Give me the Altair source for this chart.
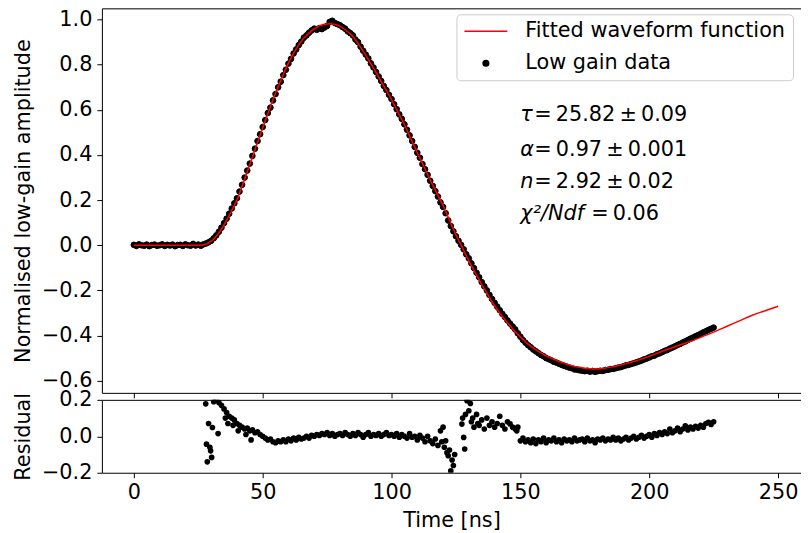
import altair as alt
import pandas as pd

FIT = "Fitted waveform function"
LOW = "Low gain data"

# ---- Low gain data (time in ns, normalised amplitude) ----
data_t = list(range(0, 226))
data_v = [
    0.002, -0.003, 0.004, 0.0, -0.002, 0.003, -0.004, 0.001, 0.003, -0.002,
    0.0, 0.004, -0.003, 0.002, -0.001, 0.003, -0.004, 0.001, 0.002, -0.003,
    0.004, 0.0, -0.002, 0.006, -0.001, 0.003, -0.002,
    0.004, 0.008, 0.013, 0.02, 0.031, 0.044, 0.06, 0.078, 0.098, 0.118, 0.14, 0.163, 0.186, 0.208,
    0.238, 0.268, 0.3, 0.331, 0.362, 0.396, 0.428, 0.462, 0.492, 0.524,
    0.555, 0.586, 0.61, 0.642, 0.67, 0.7, 0.725, 0.754, 0.778, 0.805,
    0.826, 0.85, 0.868, 0.887, 0.903, 0.92, 0.93, 0.942, 0.952, 0.96,
    0.955, 0.962, 0.958, 0.965, 0.972, 0.99, 0.995, 0.985, 0.98, 0.975,
    0.967, 0.96, 0.948, 0.94, 0.93, 0.912, 0.9, 0.88, 0.862, 0.845,
    0.828, 0.806, 0.788, 0.768, 0.748, 0.728, 0.706, 0.688, 0.667, 0.648,
    0.625, 0.603, 0.58, 0.56, 0.536, 0.512, 0.487, 0.462, 0.436, 0.41,
    0.388, 0.36, 0.337, 0.312, 0.286, 0.263, 0.24, 0.216, 0.19, 0.17,
    0.142, 0.11, 0.085, 0.062, 0.04, 0.02, 0.002, -0.018, -0.04, -0.058,
    -0.08, -0.101, -0.122, -0.142, -0.163, -0.182, -0.2, -0.22, -0.238, -0.255,
    -0.272, -0.288, -0.304, -0.318, -0.333, -0.347, -0.36, -0.373, -0.39, -0.405,
    -0.42, -0.432, -0.443, -0.452, -0.462, -0.47, -0.478, -0.486, -0.492, -0.5,
    -0.505, -0.51, -0.516, -0.52, -0.525, -0.53, -0.534, -0.538, -0.542, -0.545,
    -0.55, -0.551, -0.554, -0.556, -0.558, -0.556, -0.56, -0.557, -0.561, -0.558,
    -0.556, -0.557, -0.553, -0.552, -0.549, -0.548, -0.545, -0.542, -0.54, -0.536,
    -0.532, -0.53, -0.526, -0.523, -0.519, -0.515, -0.511, -0.506, -0.502, -0.497,
    -0.492, -0.489, -0.483, -0.479, -0.474, -0.468, -0.464, -0.458, -0.453, -0.448,
    -0.442, -0.437, -0.431, -0.426, -0.42, -0.414, -0.409, -0.403, -0.398, -0.392,
    -0.386, -0.381, -0.375, -0.37, -0.365,
]

# ---- Fitted waveform function ----
fit_t = [0, 5, 10, 15, 20, 25, 26] + list(range(27, 201)) + [205, 210, 215, 220, 225, 230, 235, 240, 245, 250]
fit_v = [
    0.0, 0.0, 0.0, 0.0, 0.0, 0.0, 0.0,
    0.002, 0.005, 0.01, 0.018, 0.028, 0.04, 0.055, 0.072, 0.09, 0.11, 0.132, 0.155, 0.178, 0.2,
    0.23, 0.262, 0.293, 0.325, 0.357, 0.39, 0.423, 0.456, 0.489, 0.52,
    0.552, 0.583, 0.614, 0.645, 0.675, 0.703, 0.73, 0.757, 0.783, 0.808,
    0.83, 0.851, 0.87, 0.888, 0.904, 0.918, 0.93, 0.941, 0.951, 0.959,
    0.966, 0.972, 0.976, 0.979, 0.981, 0.982, 0.981, 0.979, 0.975, 0.97,
    0.963, 0.955, 0.946, 0.936, 0.925, 0.91, 0.894, 0.877, 0.86, 0.842,
    0.823, 0.804, 0.785, 0.765, 0.745, 0.725, 0.705, 0.685, 0.665, 0.645,
    0.623, 0.601, 0.579, 0.557, 0.535, 0.51, 0.485, 0.46, 0.435, 0.41,
    0.386, 0.362, 0.338, 0.314, 0.29, 0.267, 0.244, 0.221, 0.198, 0.176,
    0.15, 0.124, 0.098, 0.072, 0.046, 0.023, 0.0, -0.023, -0.046, -0.069,
    -0.09, -0.111, -0.132, -0.153, -0.174, -0.193, -0.212, -0.231, -0.25, -0.268,
    -0.284, -0.3, -0.315, -0.33, -0.344, -0.357, -0.37, -0.383, -0.395, -0.406,
    -0.417, -0.428, -0.438, -0.447, -0.455, -0.463, -0.47, -0.477, -0.484, -0.49,
    -0.495, -0.5, -0.505, -0.51, -0.515, -0.519, -0.523, -0.527, -0.531, -0.534,
    -0.537, -0.539, -0.541, -0.543, -0.545, -0.546, -0.547, -0.548, -0.548, -0.548,
    -0.547, -0.546, -0.544, -0.542, -0.54, -0.538, -0.536, -0.533, -0.53, -0.527,
    -0.524, -0.521, -0.518, -0.515, -0.512, -0.508, -0.504, -0.5, -0.496, -0.492,
    -0.47, -0.45, -0.43, -0.408, -0.385, -0.36, -0.335, -0.31, -0.29, -0.27,
]

# ---- Residuals ----
res_t = (
    [27.9, 28.2, 28.5, 29.0, 29.5, 29.8, 30.2, 30.5, 31.0, 32.0,
     32.7, 33.0, 34.0, 35.0, 35.5, 36.0, 36.5, 37.0, 38.0, 38.5,
     39.0, 40.0, 40.5, 41.0, 42.0, 43.0, 43.5, 44.0, 45.0, 45.5,
     46.0, 47.0, 48.0, 49.0]
    + list(range(50, 119))
    + [119, 119.5, 120, 120.5, 121, 121.5, 122, 122.5, 123, 123.5, 124, 124.5,
       127.3, 127.6, 128, 128.4, 128.7, 129.3, 130, 130.6, 131, 131.5, 132, 133, 133.5]
    + list(range(134, 149))
    + [148.6]
    + list(range(149, 226))
)
res_v = [
    0.178, -0.043, -0.14, 0.07, -0.06, -0.08, -0.116, 0.048, 0.19, 0.2,
    0.015, 0.185, 0.17, 0.15, 0.1, 0.13, 0.07, 0.11, 0.1, 0.06,
    0.09, 0.07, 0.03, 0.06, 0.05, 0.04, 0.01, 0.045, 0.03, -0.02,
    0.035, 0.02, 0.025, 0.01,
    0.0, -0.01, -0.02, -0.015, -0.03, -0.035, -0.025, -0.03, -0.02, -0.03,
    -0.015, -0.025, -0.01, -0.02, -0.005, -0.015, -0.01, 0.0, -0.01, 0.005,
    0.0, 0.01, 0.005, 0.015, 0.01, 0.02, 0.005, 0.015, 0.0, 0.01,
    0.015, 0.005, 0.02, 0.01, 0.0, 0.015, 0.005, 0.02, 0.01, -0.005,
    0.01, 0.02, 0.0, 0.01, 0.005, 0.015, 0.0, 0.01, 0.02, 0.005,
    0.01, 0.0, 0.015, -0.005, 0.01, 0.0, -0.01, 0.015, -0.005, 0.0,
    -0.02, 0.005, -0.01, -0.03, 0.0, -0.025, -0.04, -0.015, -0.05,
    0.03, -0.03, 0.05, -0.06, -0.025, -0.09, -0.107, -0.075, -0.19, -0.13, -0.16, -0.1,
    0.067, 0.1, -0.006, -0.07, 0.12, 0.195, 0.14, 0.18, 0.08, 0.1, 0.05, 0.12, 0.07,
    0.06, 0.09, 0.04, 0.1, 0.06, 0.08, 0.05, 0.07, 0.11, 0.06, 0.04, 0.08, 0.068, 0.05, 0.04,
    0.03,
    0.05, -0.025, -0.01, -0.03, -0.02, -0.035, -0.015, -0.04, -0.02, -0.03,
    -0.01, -0.035, -0.02, -0.025, -0.01, -0.03, -0.02, -0.035, -0.015, -0.025,
    -0.02, -0.03, -0.01, -0.025, -0.02, -0.015, -0.03, -0.01, -0.025, -0.02,
    -0.035, -0.015, -0.02, -0.01, -0.025, -0.015, -0.02, -0.005, -0.02, -0.01,
    -0.025, -0.015, -0.005, -0.02, -0.01, 0.0, -0.015, -0.005, 0.005, -0.01,
    0.0, 0.01, -0.005, 0.015, 0.005, 0.02, 0.01, 0.025, 0.015, 0.04,
    0.02, 0.03, 0.045, 0.025, 0.04, 0.057, 0.035, 0.05, 0.04, 0.055,
    0.045, 0.06, 0.05, 0.07, 0.076, 0.065, 0.08,
]

# ---- Fit-result annotation ----
TS = "\u2009"  # thin space, as in the mathtext rendering
ann_sym = ["τ", "α", "n", "χ²/Ndf"]
ann_rest = ["=" + TS + "25.82" + TS + "±" + TS + "0.09",
            "=" + TS + "0.97" + TS + "±" + TS + "0.001",
            "=" + TS + "2.92" + TS + "±" + TS + "0.02",
            "=" + TS + "0.06"]
ann_v = [0.577, 0.424, 0.28, 0.139]
ann_sym_t = [150.0, 150.0, 150.0, 150.0]
ann_rest_t = [155.4, 155.4, 155.4, 177.5]

x_ticks = [0, 50, 100, 150, 200, 250]
y_ticks = [-0.6, -0.4, -0.2, 0.0, 0.2, 0.4, 0.6, 0.8, 1.0]
r_ticks = [-0.2, 0.0, 0.2]

df_data = pd.DataFrame({"t": data_t, "v": data_v, "series": LOW})
df_fit = pd.DataFrame({"t": fit_t, "v": fit_v, "series": FIT})
df_res = pd.DataFrame({"t": res_t, "v": res_v})
df_sym = pd.DataFrame({"t": ann_sym_t, "v": ann_v, "txt": ann_sym})
df_rest = pd.DataFrame({"t": ann_rest_t, "v": ann_v, "txt": ann_rest})

FONT = "DejaVu Sans"
FS = 20.8
W = 700
xs = alt.Scale(domain=[-12.4, 258.9], nice=False, zero=False)
ys = alt.Scale(domain=[-0.654, 1.05], nice=False, zero=False)
rs = alt.Scale(domain=[-0.2, 0.2], nice=False, zero=False)
dom = [FIT, LOW]

leg = alt.Legend(
    title=None, orient="none", legendX=355, legendY=6, padding=7,
    labelFont=FONT, labelFontSize=FS, labelColor="black", labelOffset=17,
    labelLimit=500, rowPadding=11, clipHeight=20, symbolStrokeWidth=1.5,
    strokeColor="#cccccc", fillColor="rgba(255,255,255,0.8)", cornerRadius=4,
)

ax_bottom_top = alt.Axis(values=x_ticks, labels=False, title=None, orient="bottom")
ax_top_spine = alt.Axis(orient="top", labels=False, ticks=False, title=None, values=x_ticks)

y_top_axis = alt.Axis(values=y_ticks, format=".1f", title="Normalised low-gain amplitude")
y_top = alt.Y("v:Q", scale=ys, axis=y_top_axis)

pts = alt.Chart(df_data).mark_point(filled=True, strokeWidth=1, opacity=1).encode(
    x=alt.X("t:Q", scale=xs, axis=ax_bottom_top), y=y_top,
    fill=alt.Fill("series:N", scale=alt.Scale(domain=dom, range=["rgba(0,0,0,0)", "black"]), legend=leg),
    stroke=alt.Stroke("series:N", scale=alt.Scale(domain=dom, range=["red", "black"]), legend=leg),
    shape=alt.Shape("series:N", scale=alt.Scale(domain=dom, range=["stroke", "circle"]), legend=leg),
    size=alt.Size("series:N", scale=alt.Scale(domain=dom, range=[1849, 32]), legend=leg),
)

fit_line = alt.Chart(df_fit).mark_line(strokeWidth=1.5, interpolate="monotone").encode(
    x=alt.X("t:Q", scale=xs, axis=None), y=y_top,
    stroke=alt.Stroke("series:N", scale=alt.Scale(domain=dom, range=["red", "black"]), legend=leg),
)

sym_text = alt.Chart(df_sym).mark_text(
    align="left", baseline="middle", font=FONT, fontSize=FS, fontStyle="italic", color="black"
).encode(x=alt.X("t:Q", scale=xs, axis=ax_top_spine), y=y_top, text="txt:N")

rest_text = alt.Chart(df_rest).mark_text(
    align="left", baseline="middle", font=FONT, fontSize=FS, color="black"
).encode(x=alt.X("t:Q", scale=xs, axis=None), y=y_top, text="txt:N")

top = alt.layer(pts, fit_line, sym_text, rest_text).resolve_axis(x="independent").properties(
    width=W, height=385)

y_res_axis = alt.Axis(values=r_ticks, format=".1f", title="Residual")
res_pts = alt.Chart(df_res).mark_circle(size=32, color="black", opacity=1, clip=True).encode(
    x=alt.X("t:Q", scale=xs, axis=alt.Axis(values=x_ticks, format="d", title="Time [ns]", orient="bottom")),
    y=alt.Y("v:Q", scale=rs, axis=y_res_axis),
)
res_spine = alt.Chart(df_res).mark_circle(size=1, opacity=0).encode(
    x=alt.X("t:Q", scale=xs, axis=ax_top_spine),
    y=alt.Y("v:Q", scale=rs, axis=y_res_axis),
)
bottom = alt.layer(res_pts, res_spine).resolve_axis(x="independent").properties(width=W, height=73)

chart = alt.vconcat(top, bottom, spacing=-10).properties(
    padding={"left": 4, "top": 0, "right": 0, "bottom": 0}
).configure_view(stroke=None).configure_axis(
    labelFont=FONT, labelFontSize=FS, labelColor="black",
    titleFont=FONT, titleFontSize=FS, titleFontWeight="normal", titleColor="black",
    domainColor="black", domainWidth=1, tickColor="black", tickSize=5, labelPadding=5, titlePadding=8,
    grid=False,
).configure_legend(labelFont=FONT)

chart.save("out.html", embed_options={"renderer": "svg", "actions": False})
